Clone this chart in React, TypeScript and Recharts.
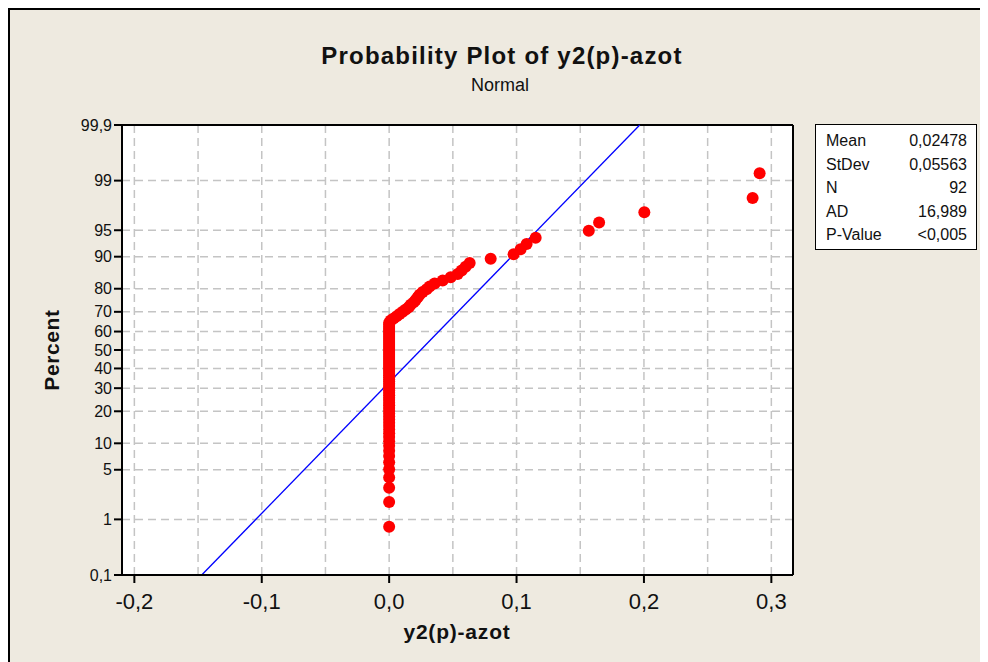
import React from "react";
import { ScatterChart, Scatter, XAxis, YAxis, CartesianGrid, ReferenceLine } from "recharts";

// Observed values of y2(p)-azot, sorted (92 observations)
const observations: number[] = [
  0, 0, 0, 0, 0, 0, 0, 0, 0, 0,
  0, 0, 0, 0, 0, 0, 0, 0, 0, 0,
  0, 0, 0, 0, 0, 0, 0, 0, 0, 0,
  0, 0, 0, 0, 0, 0, 0, 0, 0, 0,
  0, 0, 0, 0, 0, 0, 0, 0, 0, 0,
  0, 0, 0, 0, 0, 0, 0, 0, 0, 0,
  0.0012, 0.0035, 0.0059, 0.0082, 0.0106, 0.013, 0.0153, 0.0169, 0.0192, 0.0208,
  0.0224, 0.0239, 0.0263, 0.0294, 0.0318, 0.0357, 0.042, 0.0483, 0.0538, 0.0569,
  0.06, 0.0632, 0.0797, 0.0977, 0.1032, 0.1079, 0.115, 0.1567, 0.1648, 0.2003,
  0.2853, 0.2908,
];

const percentTicks: number[] = [0.1, 1, 5, 10, 20, 30, 40, 50, 60, 70, 80, 90, 95, 99, 99.9];
const percentLabels: string[] = ["0,1", "1", "5", "10", "20", "30", "40", "50", "60", "70", "80", "90", "95", "99", "99,9"];

const xGridTicks: number[] = [-0.2, -0.15, -0.1, -0.05, 0, 0.05, 0.1, 0.15, 0.2, 0.25, 0.3];
const xMajorTicks: number[] = [-0.2, -0.1, 0, 0.1, 0.2, 0.3];
const xMajorLabels: string[] = ["-0,2", "-0,1", "0,0", "0,1", "0,2", "0,3"];

const statLabels: string[] = ["Mean", "StDev", "N", "AD", "P-Value"];
const statValues: string[] = ["0,02478", "0,05563", "92", "16,989", "<0,005"];

const fitMean = 0.02478;
const fitStDev = 0.05563;

const X_MIN = -0.2097;
const X_MAX = 0.317;

// inverse standard normal CDF (Acklam) - probability scale transform
function invNorm(p: number): number {
  const a = [-3.969683028665376e1, 2.209460984245205e2, -2.759285104469687e2, 1.38357751867269e2, -3.066479806614716e1, 2.506628277459239];
  const b = [-5.447609879822406e1, 1.615858368580409e2, -1.556989798598866e2, 6.680131188771972e1, -1.328068155288572e1];
  const c = [-7.784894002430293e-3, -3.223964580411365e-1, -2.400758277161838, -2.549732539343734, 4.374664141464968, 2.938163982698783];
  const d = [7.784695709041462e-3, 3.224671290700398e-1, 2.445134137142996, 3.754408661907416];
  const pl = 0.02425;
  const ph = 1 - pl;
  if (p < pl) {
    const q = Math.sqrt(-2 * Math.log(p));
    return (((((c[0] * q + c[1]) * q + c[2]) * q + c[3]) * q + c[4]) * q + c[5]) / ((((d[0] * q + d[1]) * q + d[2]) * q + d[3]) * q + 1);
  }
  if (p <= ph) {
    const q = p - 0.5;
    const r = q * q;
    return ((((((a[0] * r + a[1]) * r + a[2]) * r + a[3]) * r + a[4]) * r + a[5]) * q) / (((((b[0] * r + b[1]) * r + b[2]) * r + b[3]) * r + b[4]) * r + 1);
  }
  const q = Math.sqrt(-2 * Math.log(1 - p));
  return -(((((c[0] * q + c[1]) * q + c[2]) * q + c[3]) * q + c[4]) * q + c[5]) / ((((d[0] * q + d[1]) * q + d[2]) * q + d[3]) * q + 1);
}

const Y_MIN = invNorm(0.001);
const Y_MAX = invNorm(0.999);
const yTicks = percentTicks.map((p) => invNorm(p / 100));

const n = observations.length;
// Minitab median-rank plotting positions
const points = observations.map((v, i) => ({ x: v, y: invNorm((i + 1 - 0.3) / (n + 0.4)) }));

const FONT = "'Liberation Sans', Arial, sans-serif";

const XTick = (props: any) => {
  const { x, y, payload } = props;
  const idx = xMajorTicks.findIndex((t) => Math.abs(t - payload.value) < 1e-9);
  if (idx < 0) return <g />;
  return (
    <g>
      <line x1={x} x2={x} y1={y} y2={y + 8} stroke="#000" strokeWidth={2} />
      <text x={x} y={y + 34} textAnchor="middle" fontSize={22} fontFamily={FONT} fill="#111">
        {xMajorLabels[idx]}
      </text>
    </g>
  );
};

const YTick = (props: any) => {
  const { x, y, payload } = props;
  const idx = yTicks.findIndex((t) => Math.abs(t - payload.value) < 1e-9);
  if (idx < 0) return <g />;
  return (
    <g>
      <line x1={x - 8} x2={x} y1={y} y2={y} stroke="#000" strokeWidth={2} />
      <text x={x - 10} y={y} dy="0.35em" textAnchor="end" fontSize={16} fontFamily={FONT} fill="#111">
        {percentLabels[idx]}
      </text>
    </g>
  );
};

const Dot = (props: any) => <circle cx={props.cx} cy={props.cy} r={6} fill="#ff0000" />;

export default function App() {
  return (
    <div
      style={{
        position: "relative",
        width: 980,
        height: 654,
        background: "#EEEAE0",
        borderTop: "2px solid #000",
        borderLeft: "2px solid #000",
        boxSizing: "border-box",
        fontFamily: FONT,
        overflow: "hidden",
      }}
    >
      <div style={{ position: "absolute", left: 192, width: 600, top: 32, textAlign: "center", fontSize: 24, fontWeight: "bold", lineHeight: "28px", color: "#111", letterSpacing: 1.2 }}>
        Probability Plot of y2(p)-azot
      </div>
      <div style={{ position: "absolute", left: 190, width: 600, top: 64, textAlign: "center", fontSize: 18, lineHeight: "22px", color: "#111" }}>
        Normal
      </div>
      <div style={{ position: "absolute", left: 0, top: 0 }}>
        <ScatterChart width={978} height={652} margin={{ top: 115, right: 195, bottom: 47, left: 62 }}>
          <CartesianGrid fill="#ffffff" stroke="#c4c4c4" strokeDasharray="8 5" strokeWidth={1.5} />
          <XAxis
            type="number"
            dataKey="x"
            domain={[X_MIN, X_MAX]}
            ticks={xGridTicks}
            interval={0}
            allowDataOverflow
            tick={<XTick />}
            tickLine={false}
            tickSize={0}
            tickMargin={0}
            height={40}
            axisLine={{ stroke: "#000", strokeWidth: 2 }}
          />
          <YAxis
            type="number"
            dataKey="y"
            domain={[Y_MIN, Y_MAX]}
            ticks={yTicks}
            interval={0}
            allowDataOverflow
            tick={<YTick />}
            tickLine={false}
            tickSize={0}
            tickMargin={0}
            width={50}
            axisLine={{ stroke: "#000", strokeWidth: 2 }}
          />
          <ReferenceLine y={Y_MAX} stroke="#000" strokeWidth={2} />
          <ReferenceLine x={X_MAX} stroke="#000" strokeWidth={2} />
          <ReferenceLine
            segment={[
              { x: fitMean + fitStDev * Y_MIN, y: Y_MIN },
              { x: fitMean + fitStDev * Y_MAX, y: Y_MAX },
            ]}
            stroke="#0000ff"
            strokeWidth={1.3}
          />
          <Scatter data={points} shape={<Dot />} isAnimationActive={false} />
        </ScatterChart>
      </div>
      <div style={{ position: "absolute", left: 42 - 100, top: 340 - 12, width: 200, height: 24, lineHeight: "24px", textAlign: "center", transform: "rotate(-90deg)", fontSize: 21, fontWeight: "bold", color: "#111", letterSpacing: 0.6 }}>
        Percent
      </div>
      <div style={{ position: "absolute", left: 147, width: 600, top: 610, textAlign: "center", fontSize: 21, fontWeight: "bold", lineHeight: "24px", color: "#111", letterSpacing: 0.8 }}>
        y2(p)-azot
      </div>
      <div style={{ position: "absolute", left: 805, top: 114, width: 162, height: 126, background: "#fff", border: "1px solid #000", boxSizing: "border-box", paddingTop: 4 }}>
        {statLabels.map((l, i) => (
          <div key={l} style={{ position: "relative", height: 23.5, lineHeight: "23.5px", fontSize: 16, color: "#111" }}>
            <span style={{ position: "absolute", left: 10 }}>{l}</span>
            <span style={{ position: "absolute", right: 9 }}>{statValues[i]}</span>
          </div>
        ))}
      </div>
    </div>
  );
}
